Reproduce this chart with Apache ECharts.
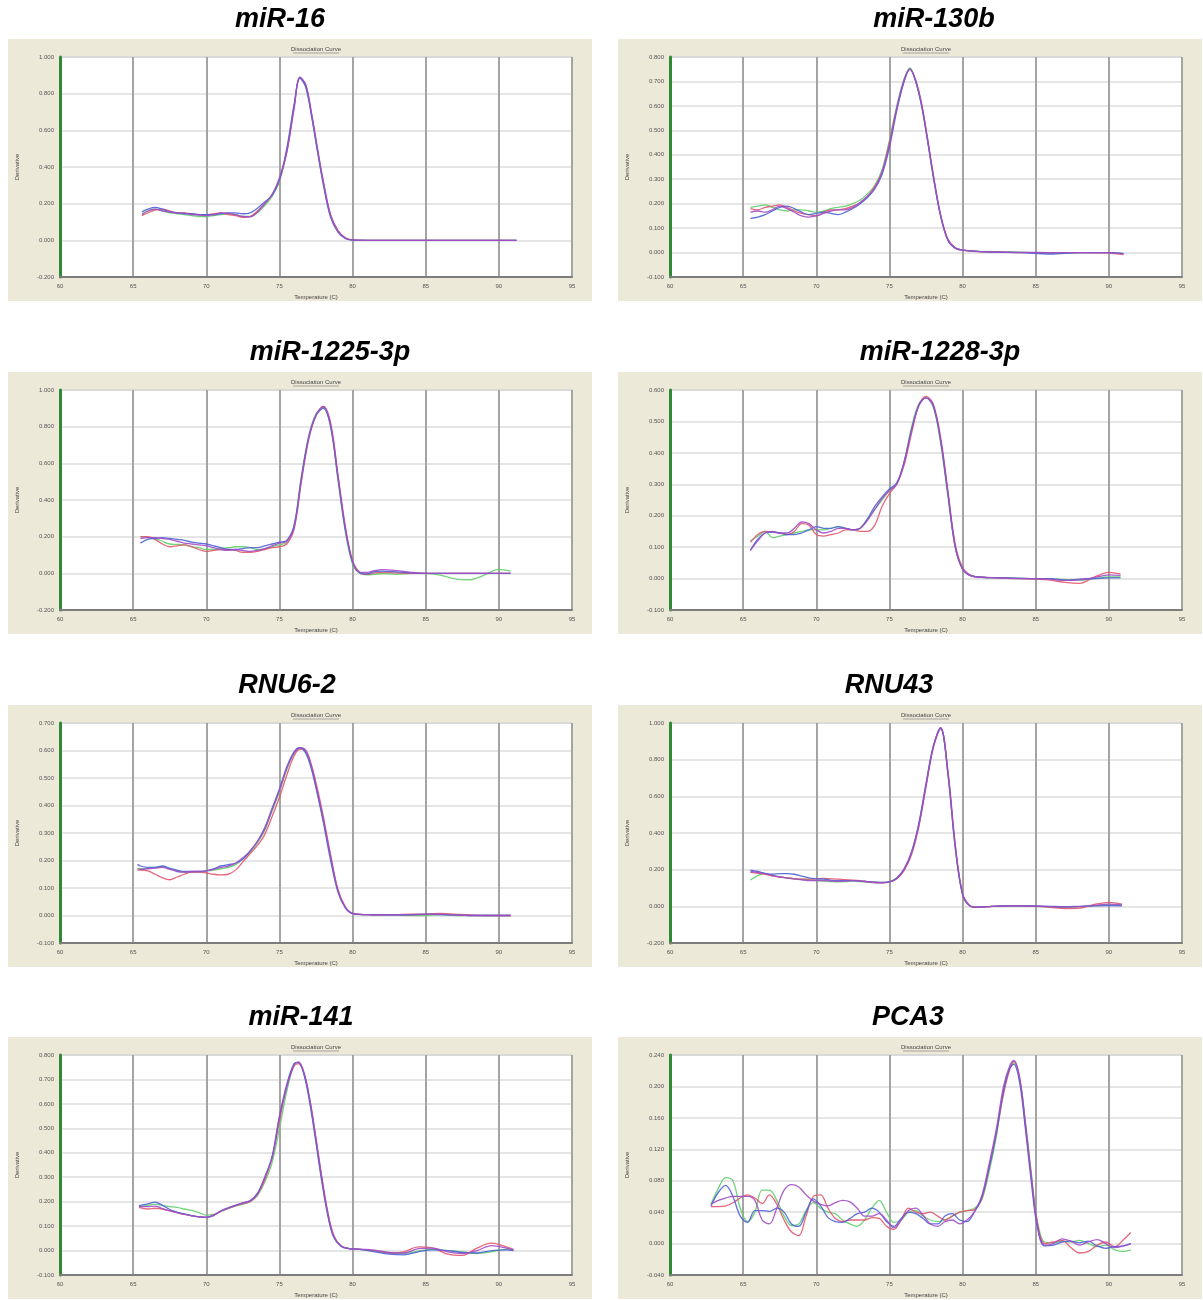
<!DOCTYPE html>
<html lang="en">
<head>
    <meta charset="UTF-8">
    <title>Dissociation curves</title>
    <script src="https://cdn.jsdelivr.net/npm/echarts/dist/echarts.min.js"></script>
    <style>
        body { margin: 0; background: #fff; }
        #chart { width: 1203px; height: 1300px; }
    </style>
</head>
<body>
    <div id="chart"></div>

    <script>
        // ---- data (temperature in C, derivative) ----
        var t_miR16 = [65.6, 66, 66.5, 67, 67.5, 68, 68.5, 69, 69.5, 70, 70.5, 71, 71.5, 72, 72.5, 73, 73.5, 74, 74.5, 75,
            75.5, 76, 76.4, 76.8, 77.2, 77.6, 78, 78.5, 79, 79.5, 80, 81, 82, 84, 86, 88, 90, 91.2];
        var miR16_green = [0.145, 0.16, 0.17, 0.16, 0.15, 0.145, 0.14, 0.135, 0.13, 0.13, 0.135, 0.14, 0.145, 0.14, 0.13, 0.13, 0.15, 0.19, 0.24, 0.32,
            0.49, 0.73, 0.89, 0.84, 0.68, 0.49, 0.31, 0.13, 0.05, 0.012, 0.002, 0, 0, 0, 0, 0, 0, 0];
        var miR16_red = [0.135, 0.15, 0.165, 0.17, 0.16, 0.15, 0.15, 0.145, 0.14, 0.14, 0.145, 0.15, 0.14, 0.135, 0.125, 0.13, 0.16, 0.2, 0.25, 0.33,
            0.48, 0.72, 0.885, 0.845, 0.69, 0.5, 0.32, 0.14, 0.055, 0.014, 0.002, 0, 0, 0, 0, 0, 0, 0];
        var miR16_blue = [0.155, 0.17, 0.18, 0.17, 0.155, 0.15, 0.145, 0.145, 0.14, 0.14, 0.14, 0.145, 0.15, 0.15, 0.145, 0.15, 0.175, 0.21, 0.245, 0.33,
            0.5, 0.74, 0.885, 0.835, 0.675, 0.485, 0.305, 0.125, 0.045, 0.01, 0.001, 0, 0, 0, 0, 0, 0, 0];
        var miR16_purple = [0.14, 0.16, 0.17, 0.16, 0.155, 0.15, 0.148, 0.14, 0.138, 0.135, 0.14, 0.15, 0.148, 0.14, 0.13, 0.128, 0.155, 0.2, 0.25, 0.34,
            0.48, 0.72, 0.89, 0.85, 0.69, 0.5, 0.32, 0.135, 0.05, 0.012, 0.002, 0, 0, 0, 0, 0, 0, 0];

        var t_miR130b = [65.5, 66, 66.5, 67, 67.5, 68, 68.5, 69, 69.5, 70, 70.5, 71, 71.5, 72, 72.5, 73, 73.5, 74, 74.5, 75,
            75.5, 76, 76.4, 76.8, 77.2, 77.6, 78, 78.5, 79, 79.5, 80, 81, 82, 84, 86, 88, 90, 91];
        var miR130b_green = [0.185, 0.19, 0.195, 0.185, 0.175, 0.17, 0.175, 0.175, 0.17, 0.165, 0.17, 0.18, 0.185, 0.19, 0.2, 0.215, 0.24, 0.275, 0.34, 0.46,
            0.6, 0.71, 0.755, 0.7, 0.6, 0.46, 0.31, 0.15, 0.05, 0.018, 0.01, 0.005, 0.003, 0.002, -0.002, 0, 0, -0.003];
        var miR130b_red = [0.18, 0.175, 0.185, 0.19, 0.195, 0.185, 0.17, 0.16, 0.155, 0.15, 0.165, 0.175, 0.175, 0.18, 0.19, 0.205, 0.23, 0.27, 0.33, 0.45,
            0.59, 0.7, 0.75, 0.705, 0.61, 0.47, 0.32, 0.155, 0.055, 0.02, 0.01, 0.004, 0.003, 0, 0, 0, -0.002, -0.008];
        var miR130b_blue = [0.14, 0.145, 0.155, 0.17, 0.185, 0.19, 0.18, 0.165, 0.155, 0.16, 0.165, 0.16, 0.155, 0.165, 0.18, 0.2, 0.225, 0.26, 0.32, 0.43,
            0.58, 0.7, 0.75, 0.7, 0.6, 0.46, 0.31, 0.15, 0.05, 0.018, 0.01, 0.005, 0.002, 0, -0.006, 0, 0, -0.004];
        var miR130b_purple = [0.165, 0.17, 0.165, 0.175, 0.19, 0.18, 0.165, 0.15, 0.145, 0.15, 0.16, 0.17, 0.175, 0.175, 0.185, 0.205, 0.23, 0.265, 0.33, 0.44,
            0.59, 0.705, 0.75, 0.7, 0.605, 0.465, 0.315, 0.15, 0.05, 0.018, 0.01, 0.005, 0.003, 0.001, 0, 0, 0, -0.005];

        var t_miR1225 = [65.5, 66, 66.5, 67, 67.5, 68, 68.5, 69, 69.5, 70, 70.5, 71, 71.5, 72, 72.5, 73, 73.5, 74, 74.5, 75, 75.5,
            76, 76.5, 77, 77.5, 78, 78.5, 79, 79.5, 80, 80.5, 81, 81.5, 82, 83, 84, 85, 86, 87, 88, 89, 90, 90.8];
        var miR1225_green = [0.2, 0.195, 0.19, 0.175, 0.16, 0.158, 0.155, 0.145, 0.14, 0.13, 0.13, 0.135, 0.14, 0.145, 0.145, 0.14, 0.13, 0.135, 0.145, 0.155, 0.17,
            0.26, 0.53, 0.75, 0.87, 0.905, 0.8, 0.51, 0.23, 0.05, 0, -0.008, -0.005, -0.002, -0.005, 0, 0, -0.01, -0.03, -0.035, -0.01, 0.022, 0.012];
        var miR1225_red = [0.2, 0.2, 0.185, 0.16, 0.145, 0.15, 0.155, 0.145, 0.13, 0.12, 0.125, 0.13, 0.13, 0.125, 0.115, 0.115, 0.12, 0.13, 0.14, 0.145, 0.16,
            0.24, 0.5, 0.73, 0.86, 0.91, 0.82, 0.54, 0.26, 0.07, 0.005, -0.005, 0.002, 0.005, 0.002, 0, 0, 0, 0, 0, 0, 0, 0];
        var miR1225_blue = [0.165, 0.185, 0.19, 0.195, 0.19, 0.185, 0.18, 0.17, 0.165, 0.16, 0.15, 0.14, 0.13, 0.13, 0.135, 0.14, 0.14, 0.15, 0.16, 0.17, 0.18,
            0.26, 0.52, 0.74, 0.86, 0.9, 0.8, 0.52, 0.24, 0.06, 0.002, -0.003, 0.01, 0.012, 0.008, 0.002, 0, 0, 0, 0, 0, 0, 0];
        var miR1225_purple = [0.19, 0.195, 0.195, 0.19, 0.185, 0.175, 0.165, 0.16, 0.155, 0.15, 0.14, 0.13, 0.125, 0.13, 0.125, 0.12, 0.125, 0.135, 0.15, 0.165, 0.175,
            0.25, 0.51, 0.74, 0.865, 0.91, 0.81, 0.53, 0.25, 0.065, 0.005, 0.005, 0.015, 0.02, 0.015, 0.005, 0, 0, 0, 0, 0, 0, 0];

        var t_miR1228 = [65.5, 66, 66.5, 67, 67.5, 68, 68.5, 69, 69.5, 70, 70.5, 71, 71.5, 72, 72.5, 73, 73.5, 74, 74.5, 75, 75.5,
            76, 76.5, 77, 77.5, 78, 78.5, 79, 79.5, 80, 80.5, 81, 82, 83, 84, 85, 86, 87, 88, 89, 90, 90.8];
        var miR1228_green = [0.12, 0.135, 0.15, 0.13, 0.135, 0.14, 0.145, 0.15, 0.155, 0.155, 0.155, 0.16, 0.165, 0.16, 0.155, 0.16, 0.19, 0.22, 0.25, 0.28, 0.3,
            0.37, 0.48, 0.555, 0.575, 0.545, 0.43, 0.26, 0.1, 0.03, 0.01, 0.005, 0.003, 0.002, 0, 0, 0, -0.003, -0.005, 0, 0.005, 0.005];
        var miR1228_red = [0.115, 0.14, 0.15, 0.148, 0.145, 0.14, 0.15, 0.175, 0.17, 0.14, 0.135, 0.14, 0.145, 0.155, 0.155, 0.15, 0.15, 0.17, 0.23, 0.27, 0.3,
            0.36, 0.46, 0.55, 0.58, 0.555, 0.45, 0.28, 0.11, 0.035, 0.012, 0.005, 0.003, 0.002, 0, -0.002, -0.005, -0.012, -0.015, 0.005, 0.02, 0.015];
        var miR1228_blue = [0.09, 0.125, 0.145, 0.148, 0.145, 0.14, 0.14, 0.145, 0.155, 0.165, 0.16, 0.16, 0.165, 0.16, 0.155, 0.16, 0.19, 0.23, 0.26, 0.285, 0.305,
            0.37, 0.47, 0.55, 0.575, 0.55, 0.44, 0.27, 0.1, 0.03, 0.01, 0.005, 0.003, 0.002, 0.001, 0, 0, -0.005, -0.002, 0, 0.002, 0.002];
        var miR1228_purple = [0.09, 0.12, 0.145, 0.15, 0.145, 0.145, 0.16, 0.18, 0.175, 0.155, 0.145, 0.15, 0.16, 0.16, 0.155, 0.16, 0.185, 0.22, 0.255, 0.28, 0.3,
            0.37, 0.47, 0.55, 0.575, 0.55, 0.44, 0.27, 0.1, 0.03, 0.01, 0.005, 0.003, 0.001, 0, 0, -0.002, -0.006, -0.004, 0.003, 0.012, 0.01];

        var t_RNU6 = [65.3, 65.5, 66, 66.5, 67, 67.5, 68, 68.5, 69, 69.5, 70, 70.5, 71, 71.5, 72, 72.5, 73, 73.5, 74, 74.5, 75, 75.5,
            76, 76.4, 76.8, 77.2, 77.6, 78, 78.5, 79, 79.5, 80, 81, 82, 83, 84, 85, 86, 87, 88, 89, 90, 90.8];
        var RNU6_green = [0.17, 0.17, 0.172, 0.175, 0.178, 0.17, 0.162, 0.158, 0.158, 0.16, 0.162, 0.165, 0.17, 0.175, 0.185, 0.205, 0.23, 0.265, 0.31, 0.38, 0.45, 0.53,
            0.59, 0.61, 0.595, 0.535, 0.445, 0.345, 0.21, 0.09, 0.03, 0.008, 0.003, 0.002, 0.001, 0, 0, 0.003, 0, 0, 0, 0, 0];
        var RNU6_red = [0.165, 0.165, 0.162, 0.15, 0.137, 0.13, 0.14, 0.15, 0.158, 0.158, 0.155, 0.15, 0.148, 0.15, 0.165, 0.195, 0.225, 0.255, 0.295, 0.36, 0.43, 0.51,
            0.58, 0.605, 0.6, 0.545, 0.46, 0.36, 0.22, 0.095, 0.032, 0.008, 0.003, 0.002, 0.003, 0.005, 0.005, 0.008, 0.005, 0.002, 0, 0, 0];
        var RNU6_blue = [0.186, 0.18, 0.175, 0.175, 0.18, 0.172, 0.165, 0.16, 0.16, 0.16, 0.162, 0.17, 0.18, 0.185, 0.19, 0.205, 0.235, 0.27, 0.32, 0.39, 0.46, 0.54,
            0.595, 0.61, 0.59, 0.53, 0.44, 0.34, 0.2, 0.085, 0.028, 0.007, 0.003, 0.002, 0.002, 0.003, 0.005, 0.003, 0.002, 0, 0, 0, 0];
        var RNU6_purple = [0.17, 0.168, 0.17, 0.172, 0.175, 0.168, 0.16, 0.158, 0.16, 0.16, 0.162, 0.168, 0.175, 0.18, 0.19, 0.21, 0.235, 0.27, 0.315, 0.385, 0.455, 0.535,
            0.59, 0.61, 0.6, 0.54, 0.45, 0.35, 0.215, 0.09, 0.03, 0.008, 0.003, 0.002, 0.002, 0.002, 0.004, 0.005, 0.002, 0, 0, 0, 0];

        var t_RNU43 = [65.5, 66, 66.5, 67, 67.5, 68, 68.5, 69, 69.5, 70, 70.5, 71, 71.5, 72, 72.5, 73, 73.5, 74, 74.5, 75, 75.5,
            76, 76.5, 77, 77.5, 78, 78.5, 79, 79.5, 80, 80.5, 81, 82, 83, 84, 85, 86, 87, 88, 89, 90, 90.9];
        var RNU43_green = [0.144, 0.168, 0.178, 0.17, 0.16, 0.155, 0.15, 0.148, 0.145, 0.14, 0.138, 0.135, 0.133, 0.135, 0.138, 0.135, 0.132, 0.13, 0.13, 0.135, 0.155,
            0.2, 0.285, 0.44, 0.66, 0.87, 0.97, 0.72, 0.32, 0.065, 0.003, -0.005, 0, 0.002, 0.002, 0, -0.003, -0.005, -0.002, 0.003, 0.008, 0.005];
        var RNU43_red = [0.185, 0.18, 0.175, 0.165, 0.16, 0.155, 0.15, 0.148, 0.148, 0.15, 0.152, 0.15, 0.148, 0.145, 0.143, 0.14, 0.135, 0.13, 0.128, 0.132, 0.15,
            0.195, 0.28, 0.43, 0.65, 0.865, 0.975, 0.74, 0.34, 0.07, 0.004, -0.006, 0, 0.003, 0.002, 0, -0.005, -0.012, -0.01, 0.01, 0.022, 0.012];
        var RNU43_blue = [0.198, 0.19, 0.18, 0.175, 0.178, 0.178, 0.175, 0.165, 0.155, 0.15, 0.148, 0.142, 0.14, 0.14, 0.14, 0.138, 0.135, 0.132, 0.13, 0.133, 0.155,
            0.205, 0.295, 0.45, 0.67, 0.875, 0.97, 0.72, 0.32, 0.065, 0.002, -0.004, 0, 0.002, 0.003, 0.002, 0, -0.002, 0, 0.002, 0.004, 0.003];
        var RNU43_purple = [0.19, 0.185, 0.178, 0.168, 0.16, 0.155, 0.15, 0.145, 0.14, 0.14, 0.14, 0.138, 0.136, 0.138, 0.14, 0.138, 0.134, 0.13, 0.129, 0.133, 0.152,
            0.2, 0.29, 0.44, 0.66, 0.87, 0.975, 0.73, 0.33, 0.068, 0.003, -0.005, 0, 0.002, 0.002, 0.001, -0.002, -0.004, -0.002, 0.005, 0.012, 0.008];

        var t_miR141 = [65.4, 66, 66.5, 67, 67.5, 68, 68.5, 69, 69.5, 70, 70.5, 71, 71.5, 72, 72.5, 73, 73.5, 74, 74.5, 75, 75.5,
            76, 76.3, 76.7, 77.1, 77.5, 77.9, 78.3, 78.7, 79.2, 79.8, 80.5, 81.5, 82.5, 83.5, 84.5, 85.5, 86.5, 87.5, 88.5, 89.5, 90.5, 91];
        var miR141_green = [0.18, 0.185, 0.19, 0.185, 0.18, 0.177, 0.17, 0.164, 0.155, 0.145, 0.148, 0.16, 0.172, 0.182, 0.19, 0.2, 0.225, 0.28, 0.36, 0.5, 0.65,
            0.76, 0.77, 0.72, 0.6, 0.45, 0.29, 0.15, 0.06, 0.02, 0.008, 0.005, -0.002, -0.01, -0.012, -0.002, 0.005, 0, -0.005, -0.012, -0.005, 0.005, 0.002];
        var miR141_red = [0.177, 0.17, 0.173, 0.17, 0.162, 0.155, 0.148, 0.142, 0.138, 0.136, 0.145, 0.16, 0.172, 0.184, 0.192, 0.2, 0.23, 0.29, 0.38, 0.53, 0.67,
            0.755, 0.765, 0.72, 0.61, 0.46, 0.3, 0.16, 0.065, 0.02, 0.008, 0.005, 0, -0.01, -0.005, 0.015, 0.01, -0.015, -0.02, 0.01, 0.03, 0.015, 0.005];
        var miR141_blue = [0.184, 0.191, 0.198, 0.185, 0.168, 0.157, 0.15, 0.143, 0.138, 0.136, 0.143, 0.162, 0.175, 0.185, 0.195, 0.205, 0.235, 0.3, 0.385, 0.55, 0.68,
            0.765, 0.77, 0.715, 0.595, 0.44, 0.28, 0.145, 0.055, 0.018, 0.007, 0.005, -0.005, -0.015, -0.018, -0.005, 0.003, 0, -0.008, -0.01, 0, 0.003, 0];
        var miR141_purple = [0.18, 0.18, 0.182, 0.172, 0.163, 0.155, 0.148, 0.142, 0.138, 0.136, 0.145, 0.163, 0.175, 0.185, 0.195, 0.203, 0.232, 0.3, 0.38, 0.545, 0.67,
            0.76, 0.772, 0.725, 0.61, 0.455, 0.295, 0.155, 0.06, 0.02, 0.008, 0.006, 0.002, -0.008, -0.01, 0.008, 0.01, -0.005, -0.012, 0, 0.02, 0.01, 0.003];

        var t_PCA3 = [62.8, 63.3, 63.8, 64.3, 64.8, 65.3, 65.8, 66.3, 66.8, 67.3, 67.8, 68.3, 68.8, 69.3, 69.8, 70.3, 70.8, 71.3, 71.8, 72.3,
            72.8, 73.3, 73.8, 74.3, 74.8, 75.3, 75.8, 76.3, 76.8, 77.3, 77.8, 78.3, 78.8, 79.3, 79.8, 80.3, 80.8, 81.3, 81.8, 82.3, 82.8,
            83.2, 83.5, 83.9, 84.3, 84.7, 85.1, 85.6, 86.2, 86.8, 87.4, 88, 88.6, 89.2, 89.8, 90.4, 91, 91.5];
        var PCA3_green = [0.05, 0.07, 0.084, 0.08, 0.045, 0.028, 0.04, 0.068, 0.068, 0.055, 0.035, 0.023, 0.025, 0.042, 0.052, 0.045, 0.04, 0.038, 0.03, 0.025,
            0.022, 0.03, 0.045, 0.055, 0.04, 0.027, 0.03, 0.04, 0.042, 0.035, 0.03, 0.028, 0.03, 0.035, 0.04, 0.042, 0.045, 0.055, 0.09, 0.135, 0.195,
            0.222, 0.23, 0.21, 0.155, 0.09, 0.03, 0.002, 0.001, 0.003, 0.002, 0.004, 0, -0.004, -0.002, -0.008, -0.01, -0.008];
        var PCA3_red = [0.047, 0.047, 0.048, 0.052, 0.058, 0.062, 0.058, 0.051, 0.062, 0.05, 0.03, 0.015, 0.01, 0.035, 0.06, 0.062, 0.045, 0.032, 0.028, 0.03,
            0.03, 0.03, 0.033, 0.032, 0.022, 0.018, 0.03, 0.045, 0.04, 0.038, 0.04, 0.035, 0.03, 0.035, 0.04, 0.042, 0.043, 0.057, 0.095, 0.14, 0.19,
            0.22, 0.232, 0.21, 0.15, 0.085, 0.028, 0, 0.002, 0.004, -0.005, -0.012, -0.01, -0.002, 0.002, -0.004, 0.005, 0.014];
        var PCA3_blue = [0.048, 0.065, 0.074, 0.06, 0.035, 0.027, 0.042, 0.042, 0.041, 0.045, 0.04, 0.025, 0.022, 0.04, 0.057, 0.048, 0.033, 0.028, 0.027, 0.032,
            0.038, 0.04, 0.045, 0.04, 0.028, 0.022, 0.032, 0.04, 0.038, 0.032, 0.025, 0.025, 0.035, 0.038, 0.03, 0.028, 0.04, 0.058, 0.095, 0.14, 0.195,
            0.222, 0.228, 0.205, 0.145, 0.078, 0.022, -0.003, -0.002, 0.002, 0.003, 0.001, 0.003, -0.003, -0.006, -0.004, -0.003, 0];
        var PCA3_purple = [0.05, 0.055, 0.058, 0.06, 0.06, 0.06, 0.055, 0.03, 0.025, 0.045, 0.068, 0.075, 0.072, 0.062, 0.054, 0.05, 0.048, 0.052, 0.055, 0.053,
            0.045, 0.035, 0.035, 0.038, 0.03, 0.02, 0.03, 0.042, 0.045, 0.036, 0.025, 0.022, 0.028, 0.03, 0.025, 0.03, 0.04, 0.06, 0.1, 0.145, 0.2,
            0.225, 0.233, 0.212, 0.152, 0.085, 0.025, -0.002, 0, 0.006, 0.003, -0.002, 0.002, 0.005, 0, -0.005, -0.003, 0];

        // y axis ranges (min, max, step) of each panel
        var yMins = [-0.2, -0.1, -0.2, -0.1, -0.1, -0.2, -0.1, -0.04];
        var yMaxs = [1.0, 0.8, 1.0, 0.6, 0.7, 1.0, 0.8, 0.24];
        var ySteps = [0.2, 0.1, 0.2, 0.1, 0.1, 0.2, 0.1, 0.04];
        var xTicks = [60, 65, 70, 75, 80, 85, 90, 95];

        var panels = [
            { title: 'miR-16', temps: t_miR16, lines: [miR16_green, miR16_red, miR16_blue, miR16_purple] },
            { title: 'miR-130b', temps: t_miR130b, lines: [miR130b_green, miR130b_red, miR130b_blue, miR130b_purple] },
            { title: 'miR-1225-3p', temps: t_miR1225, lines: [miR1225_green, miR1225_red, miR1225_blue, miR1225_purple] },
            { title: 'miR-1228-3p', temps: t_miR1228, lines: [miR1228_green, miR1228_red, miR1228_blue, miR1228_purple] },
            { title: 'RNU6-2', temps: t_RNU6, lines: [RNU6_green, RNU6_red, RNU6_blue, RNU6_purple] },
            { title: 'RNU43', temps: t_RNU43, lines: [RNU43_green, RNU43_red, RNU43_blue, RNU43_purple] },
            { title: 'miR-141', temps: t_miR141, lines: [miR141_green, miR141_red, miR141_blue, miR141_purple] },
            { title: 'PCA3', temps: t_PCA3, lines: [PCA3_green, PCA3_red, PCA3_blue, PCA3_purple] }
        ];

        var lineColors = ['#62cf6a', '#e2566e', '#4d62d8', '#a04cc6'];

        // ---- layout ----
        var colX = [8, 618];
        var rowY = [39, 372, 705, 1037];
        // the big titles are not all centred the same way in the source
        var titleCenterX = [280, 934, 330, 940, 287, 889, 301, 908];
        var tinyFont = 'Liberation Sans, Arial, sans-serif';

        var chart = echarts.init(document.getElementById('chart'));
        var grids = [], xAxes = [], yAxes = [], series = [], graphics = [];

        panels.forEach(function (p, i) {
            var px = colX[i % 2];
            var py = rowY[Math.floor(i / 2)];
            var gl = px + 52, gt = py + 18, gw = 512, gh = 220;

            // beige panel background
            graphics.push({
                type: 'rect', z: -10,
                shape: { x: px, y: py, width: 584, height: 262 },
                style: { fill: '#ece9d8' }
            });
            // big title
            graphics.push({
                type: 'text', x: titleCenterX[i], y: py - 19,
                style: {
                    text: p.title, fill: '#000',
                    font: 'italic bold 27px "Liberation Sans", Arial, sans-serif',
                    align: 'center', verticalAlign: 'middle'
                }
            });
            // small chart caption, underlined
            graphics.push({
                type: 'text', x: gl + gw / 2, y: gt - 8,
                style: {
                    text: 'Dissociation Curve', fill: '#444',
                    font: '6px ' + tinyFont, align: 'center', verticalAlign: 'middle'
                }
            });
            graphics.push({
                type: 'line',
                shape: { x1: gl + gw / 2 - 23, y1: gt - 4, x2: gl + gw / 2 + 23, y2: gt - 4 },
                style: { stroke: '#777', lineWidth: 0.6 }
            });

            grids.push({
                left: gl, top: gt, width: gw, height: gh,
                show: true, backgroundColor: '#fff', borderColor: '#a9a9a9', borderWidth: 1
            });

            xAxes.push({
                type: 'value', gridIndex: i,
                min: xTicks[0], max: xTicks[xTicks.length - 1], interval: 5,
                name: 'Temperature (C)', nameLocation: 'middle', nameGap: 17,
                nameTextStyle: { fontSize: 6, color: '#444', fontFamily: tinyFont },
                axisLine: { show: true, onZero: false, lineStyle: { color: '#7d7d7d', width: 2 } },
                axisTick: { show: false },
                axisLabel: { fontSize: 6, color: '#555', margin: 6, fontFamily: tinyFont },
                splitLine: { show: true, lineStyle: { color: '#a4a4a4', width: 2 } }
            });

            yAxes.push({
                type: 'value', gridIndex: i,
                min: yMins[i], max: yMaxs[i], interval: ySteps[i],
                name: 'Derivative', nameLocation: 'middle', nameGap: 40, nameRotate: 90,
                nameTextStyle: { fontSize: 6, color: '#444', fontFamily: tinyFont },
                axisLine: { show: true, onZero: false, lineStyle: { color: '#2f8a35', width: 3 } },
                axisTick: { show: false },
                axisLabel: {
                    fontSize: 6, color: '#555', margin: 6, fontFamily: tinyFont,
                    formatter: function (v) { return v.toFixed(3); }
                },
                splitLine: { show: true, lineStyle: { color: '#dcdcdc', width: 1.5 } }
            });

            p.lines.forEach(function (vals, k) {
                var n = Math.min(vals.length, p.temps.length);
                var data = [];
                for (var j = 0; j < n; j++) data.push([p.temps[j], vals[j]]);
                series.push({
                    type: 'line', xAxisIndex: i, yAxisIndex: i,
                    data: data, smooth: 0.35, symbol: 'none',
                    lineStyle: { color: lineColors[k], width: 1.3, opacity: 0.9 },
                    z: 3
                });
            });
        });

        chart.setOption({
            animation: false,
            graphic: { elements: graphics },
            grid: grids,
            xAxis: xAxes,
            yAxis: yAxes,
            series: series
        });
    </script>
</body>
</html>
